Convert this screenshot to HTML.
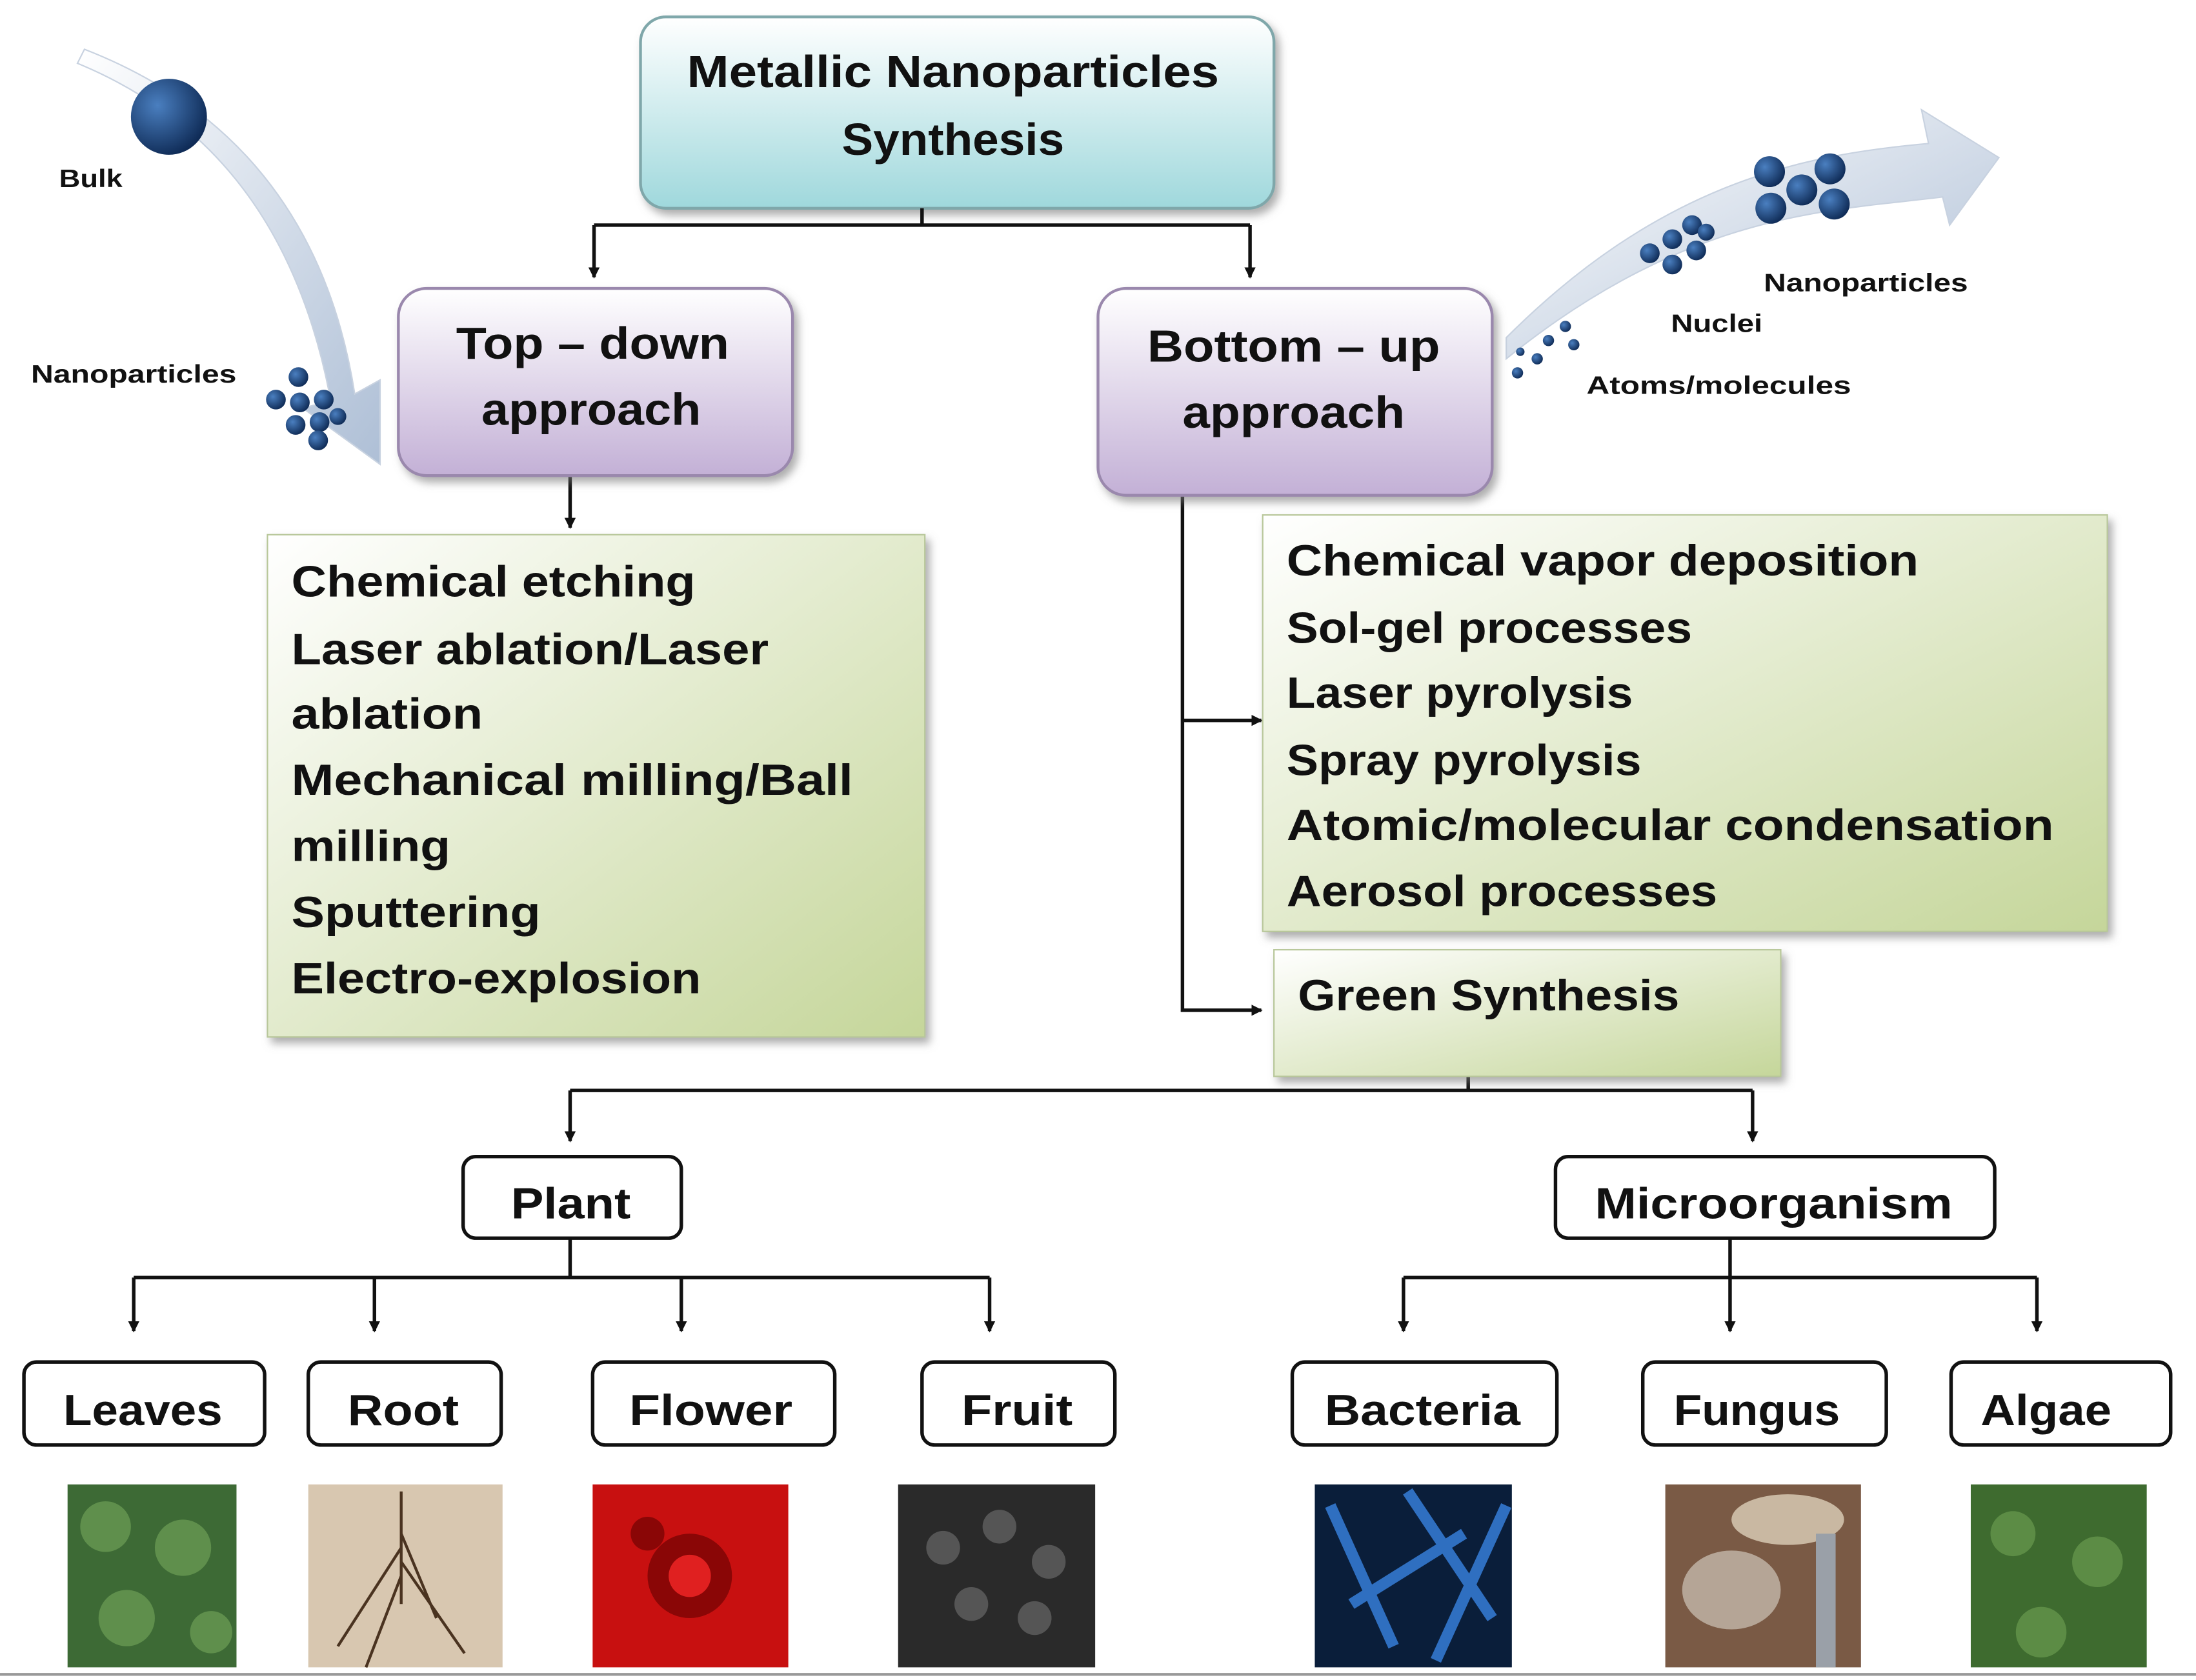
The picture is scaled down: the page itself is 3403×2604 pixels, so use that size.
<!DOCTYPE html>
<html><head><meta charset="utf-8"><style>
html,body{margin:0;padding:0;background:#fff;}
svg{display:block;}
text{font-family:"Liberation Sans","DejaVu Sans",sans-serif;font-weight:bold;fill:#111;}
</style></head><body>
<svg width="3403" height="2604" viewBox="0 0 1560 1194" preserveAspectRatio="none" xmlns="http://www.w3.org/2000/svg">
<defs>
<linearGradient id="gc" x1="0" y1="0" x2="0" y2="1"><stop offset="0" stop-color="#ffffff"/><stop offset="1" stop-color="#9fd8dc"/></linearGradient>
<linearGradient id="gp" x1="0" y1="0" x2="0" y2="1"><stop offset="0" stop-color="#ffffff"/><stop offset="1" stop-color="#c3b0d6"/></linearGradient>
<linearGradient id="gg" x1="0" y1="0" x2="1" y2="1"><stop offset="0" stop-color="#ffffff"/><stop offset="1" stop-color="#c5d69a"/></linearGradient>
<linearGradient id="ga" x1="0" y1="0" x2="1" y2="1"><stop offset="0" stop-color="#ffffff"/><stop offset="1" stop-color="#aebfd6"/></linearGradient>
<radialGradient id="ball" cx="0.35" cy="0.35" r="0.7"><stop offset="0" stop-color="#4a7fc0"/><stop offset="1" stop-color="#0e2a55"/></radialGradient>
<marker id="ar" markerWidth="8" markerHeight="8" refX="7" refY="4" orient="auto" markerUnits="userSpaceOnUse"><path d="M0,0 L8,4 L0,8 z" fill="#111"/></marker>
<filter id="sh" x="-5%" y="-5%" width="115%" height="120%"><feDropShadow dx="3" dy="4" stdDeviation="3" flood-color="#777" flood-opacity="0.6"/></filter>
</defs>

<path d="M55,45 C140,80 210,150 235,285 L215,290 L270,330 L270,270 L252,280 C230,140 150,70 60,35 z" fill="url(#ga)" stroke="#c8d2e0"/>
<circle cx="120" cy="83" r="27" fill="url(#ball)"/>
<text x="42" y="133" font-size="18" textLength="45" lengthAdjust="spacingAndGlyphs">Bulk</text>
<text x="22" y="272" font-size="18" textLength="146" lengthAdjust="spacingAndGlyphs">Nanoparticles</text>
<g fill="url(#ball)"><circle cx="212" cy="268" r="7"/><circle cx="196" cy="284" r="7"/><circle cx="213" cy="286" r="7"/><circle cx="230" cy="284" r="7"/><circle cx="210" cy="302" r="7"/><circle cx="227" cy="300" r="7"/><circle cx="240" cy="296" r="6"/><circle cx="226" cy="313" r="7"/></g>

<path d="M1070,255 C1200,150 1300,150 1380,140 L1385,160 L1420,112 L1365,78 L1370,102 C1280,110 1180,130 1070,240 z" fill="url(#ga)" stroke="#c8d2e0"/>
<g fill="url(#ball)"><circle cx="1078" cy="265" r="4"/><circle cx="1092" cy="255" r="4"/><circle cx="1100" cy="242" r="4"/><circle cx="1112" cy="232" r="4"/><circle cx="1118" cy="245" r="4"/><circle cx="1080" cy="250" r="3"/>
<circle cx="1172" cy="180" r="7"/><circle cx="1188" cy="170" r="7"/><circle cx="1202" cy="160" r="7"/><circle cx="1188" cy="188" r="7"/><circle cx="1205" cy="178" r="7"/><circle cx="1212" cy="165" r="6"/>
<circle cx="1257" cy="122" r="11"/><circle cx="1300" cy="120" r="11"/><circle cx="1258" cy="148" r="11"/><circle cx="1280" cy="135" r="11"/><circle cx="1303" cy="145" r="11"/></g>
<text x="1253" y="207" font-size="18" textLength="145" lengthAdjust="spacingAndGlyphs">Nanoparticles</text>
<text x="1187" y="236" font-size="18" textLength="65" lengthAdjust="spacingAndGlyphs">Nuclei</text>
<text x="1127" y="280" font-size="18" textLength="188" lengthAdjust="spacingAndGlyphs">Atoms/molecules</text>

<rect x="455" y="12" width="450" height="136" rx="18" fill="url(#gc)" stroke="#7fa7aa" stroke-width="2" filter="url(#sh)"/>
<text x="488" y="62" font-size="32" textLength="378" lengthAdjust="spacingAndGlyphs">Metallic Nanoparticles</text>
<text x="598" y="110" font-size="32" textLength="158" lengthAdjust="spacingAndGlyphs">Synthesis</text>

<g stroke="#111" stroke-width="2.5" fill="none">
<path d="M655,148 V160 M422,160 H888"/>
<path d="M422,160 V197" marker-end="url(#ar)"/>
<path d="M888,160 V197" marker-end="url(#ar)"/>
<path d="M405,338 V375" marker-end="url(#ar)"/>
<path d="M840,352 V718 H896" marker-end="url(#ar)"/>
<path d="M840,512 H896" marker-end="url(#ar)"/>
<path d="M1043,765 V775 M405,775 H1245"/>
<path d="M405,775 V811" marker-end="url(#ar)"/>
<path d="M1245,775 V811" marker-end="url(#ar)"/>
<path d="M405,880 V908 M95,908 H703"/>
<path d="M95,908 V946" marker-end="url(#ar)"/>
<path d="M266,908 V946" marker-end="url(#ar)"/>
<path d="M484,908 V946" marker-end="url(#ar)"/>
<path d="M703,908 V946" marker-end="url(#ar)"/>
<path d="M1229,880 V946" marker-end="url(#ar)"/>
<path d="M997,908 H1447"/>
<path d="M997,908 V946" marker-end="url(#ar)"/>
<path d="M1447,908 V946" marker-end="url(#ar)"/>
</g>

<rect x="283" y="205" width="280" height="133" rx="20" fill="url(#gp)" stroke="#9a88ad" stroke-width="2" filter="url(#sh)"/>
<text x="324" y="255" font-size="32" textLength="194" lengthAdjust="spacingAndGlyphs">Top – down</text>
<text x="342" y="302" font-size="32" textLength="156" lengthAdjust="spacingAndGlyphs">approach</text>
<rect x="780" y="205" width="280" height="147" rx="20" fill="url(#gp)" stroke="#9a88ad" stroke-width="2" filter="url(#sh)"/>
<text x="815" y="257" font-size="32" textLength="208" lengthAdjust="spacingAndGlyphs">Bottom – up</text>
<text x="840" y="304" font-size="32" textLength="158" lengthAdjust="spacingAndGlyphs">approach</text>

<rect x="190" y="380" width="467" height="357" fill="url(#gg)" stroke="#b8c79a" filter="url(#sh)"/>
<g font-size="31">
<text x="207" y="424" textLength="287" lengthAdjust="spacingAndGlyphs">Chemical etching</text>
<text x="207" y="472" textLength="339" lengthAdjust="spacingAndGlyphs">Laser ablation/Laser</text>
<text x="207" y="518" textLength="136" lengthAdjust="spacingAndGlyphs">ablation</text>
<text x="207" y="565" textLength="399" lengthAdjust="spacingAndGlyphs">Mechanical milling/Ball</text>
<text x="207" y="612" textLength="113" lengthAdjust="spacingAndGlyphs">milling</text>
<text x="207" y="659" textLength="177" lengthAdjust="spacingAndGlyphs">Sputtering</text>
<text x="207" y="706" textLength="291" lengthAdjust="spacingAndGlyphs">Electro-explosion</text>
</g>
<rect x="897" y="366" width="600" height="296" fill="url(#gg)" stroke="#b8c79a" filter="url(#sh)"/>
<g font-size="31">
<text x="914" y="409" textLength="449" lengthAdjust="spacingAndGlyphs">Chemical vapor deposition</text>
<text x="914" y="457" textLength="288" lengthAdjust="spacingAndGlyphs">Sol-gel processes</text>
<text x="914" y="503" textLength="246" lengthAdjust="spacingAndGlyphs">Laser pyrolysis</text>
<text x="914" y="551" textLength="252" lengthAdjust="spacingAndGlyphs">Spray pyrolysis</text>
<text x="914" y="597" textLength="545" lengthAdjust="spacingAndGlyphs">Atomic/molecular  condensation</text>
<text x="914" y="644" textLength="306" lengthAdjust="spacingAndGlyphs">Aerosol processes</text>
</g>
<rect x="905" y="675" width="360" height="90" fill="url(#gg)" stroke="#b8c79a" filter="url(#sh)"/>
<text x="922" y="718" font-size="31" textLength="271" lengthAdjust="spacingAndGlyphs">Green Synthesis</text>

<g fill="#fff" stroke="#111" stroke-width="2.5">
<rect x="329" y="822" width="155" height="58" rx="9"/>
<rect x="1105" y="822" width="312" height="58" rx="9"/>
<rect x="17" y="968" width="171" height="59" rx="9"/>
<rect x="219" y="968" width="137" height="59" rx="9"/>
<rect x="421" y="968" width="172" height="59" rx="9"/>
<rect x="655" y="968" width="137" height="59" rx="9"/>
<rect x="918" y="968" width="188" height="59" rx="9"/>
<rect x="1167" y="968" width="173" height="59" rx="9"/>
<rect x="1386" y="968" width="156" height="59" rx="9"/>
</g>
<g font-size="31">
<text x="363" y="866" textLength="85" lengthAdjust="spacingAndGlyphs">Plant</text>
<text x="1133" y="866" textLength="254" lengthAdjust="spacingAndGlyphs">Microorganism</text>
<text x="45" y="1013" textLength="113" lengthAdjust="spacingAndGlyphs">Leaves</text>
<text x="247" y="1013" textLength="79" lengthAdjust="spacingAndGlyphs">Root</text>
<text x="447" y="1013" textLength="116" lengthAdjust="spacingAndGlyphs">Flower</text>
<text x="683" y="1013" textLength="79" lengthAdjust="spacingAndGlyphs">Fruit</text>
<text x="941" y="1013" textLength="139" lengthAdjust="spacingAndGlyphs">Bacteria</text>
<text x="1189" y="1013" textLength="118" lengthAdjust="spacingAndGlyphs">Fungus</text>
<text x="1407" y="1013" textLength="93" lengthAdjust="spacingAndGlyphs">Algae</text>
</g>

<rect x="48" y="1055" width="120" height="130" fill="#3d6a35"/>
<g fill="#5f8f4c"><circle cx="75" cy="1085" r="18"/><circle cx="130" cy="1100" r="20"/><circle cx="90" cy="1150" r="20"/><circle cx="150" cy="1160" r="15"/></g>
<rect x="219" y="1055" width="138" height="130" fill="#d8c7b0"/>
<g stroke="#4a3320" stroke-width="2" fill="none"><path d="M285,1060 V1140 M285,1100 L240,1170 M285,1110 L330,1175 M285,1120 L260,1185 M285,1090 L310,1150"/></g>
<rect x="421" y="1055" width="139" height="130" fill="#c81010"/>
<g fill="#8a0606"><circle cx="490" cy="1120" r="30"/><circle cx="460" cy="1090" r="12"/></g><circle cx="490" cy="1120" r="15" fill="#e02020"/>
<rect x="638" y="1055" width="140" height="130" fill="#2a2a2a"/>
<g fill="#555"><circle cx="670" cy="1100" r="12"/><circle cx="710" cy="1085" r="12"/><circle cx="745" cy="1110" r="12"/><circle cx="690" cy="1140" r="12"/><circle cx="735" cy="1150" r="12"/></g>
<rect x="934" y="1055" width="140" height="130" fill="#0a1e3a"/>
<g stroke="#2f6fc0" stroke-width="8"><path d="M945,1070 L990,1170 M1000,1060 L1060,1150 M960,1140 L1040,1090 M1020,1180 L1070,1070"/></g>
<rect x="1183" y="1055" width="139" height="130" fill="#7a5a45"/>
<ellipse cx="1270" cy="1080" rx="40" ry="18" fill="#c9b8a2"/><rect x="1290" y="1090" width="14" height="95" fill="#9aa0a8"/><ellipse cx="1230" cy="1130" rx="35" ry="28" fill="#b5a596"/>
<rect x="1400" y="1055" width="125" height="130" fill="#3e6b2f"/>
<g fill="#5c8c45"><circle cx="1430" cy="1090" r="16"/><circle cx="1490" cy="1110" r="18"/><circle cx="1450" cy="1160" r="18"/></g>
<line x1="0" y1="1190" x2="1560" y2="1190" stroke="#999" stroke-width="2"/>
</svg>
</body></html>
